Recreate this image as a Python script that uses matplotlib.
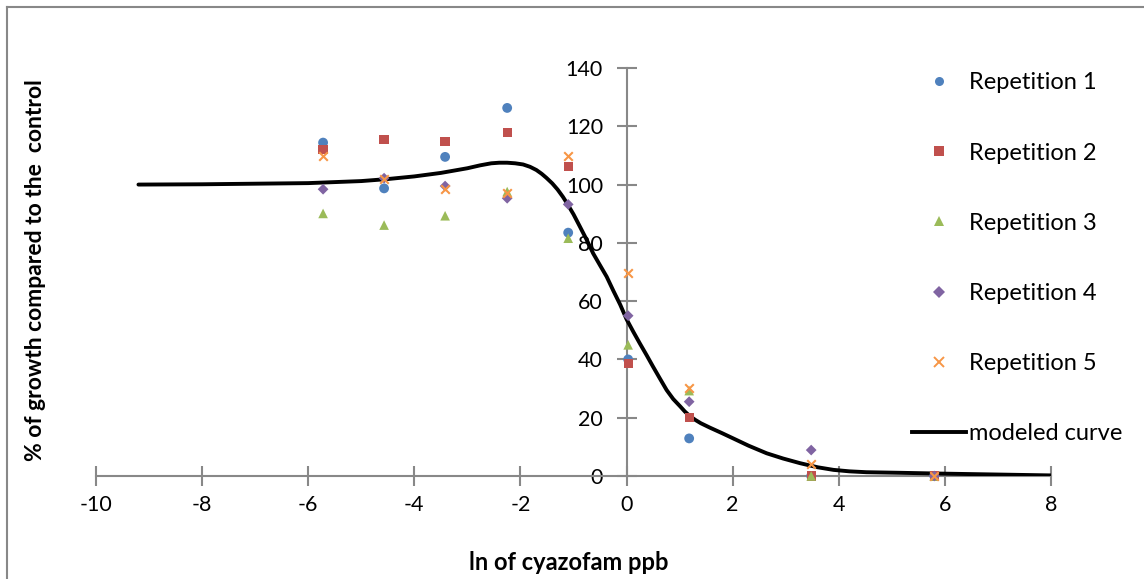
import numpy as np
import matplotlib.pyplot as plt
from matplotlib.lines import Line2D

plt.rcParams['font.family'] = ['Lato', 'DejaVu Sans']
plt.rcParams['axes.unicode_minus'] = False

# ln of concentration for each dose
ln_dose = [-5.72, -4.57, -3.42, -2.25, -1.10, 0.03, 1.18, 3.48, 5.80]

rep1 = [114.4, 98.7, 109.5, 126.3, 83.5, 40.0, 12.9, 0.0, 0.0]
rep2 = [112.1, 115.6, 114.7, 117.8, 106.2, 38.7, 20.1, 0.0, 0.0]
rep3 = [90.1, 86.1, 89.3, 97.6, 81.6, 45.0, 29.3, 0.0, 0.0]
rep4 = [98.4, 102.2, 99.5, 95.3, 93.2, 55.0, 25.5, 8.9, 0.0]
rep5 = [109.9, 101.9, 98.6, 97.2, 109.8, 69.7, 30.1, 4.1, 0.0]

# modeled curve
curve_x = [-9.2, -8.0, -7.0, -6.0, -5.0, -4.5, -4.0, -3.5, -3.0, -2.76, -2.55, -2.4,
           -2.25, -2.1, -1.95, -1.82, -1.7, -1.6, -1.51, -1.4, -1.3, -1.2, -1.13, -1.0,
           -0.88, -0.75, -0.63, -0.5, -0.375, -0.25, -0.12, 0.0, 0.13, 0.25, 0.38,
           0.5, 0.63, 0.755, 0.88, 1.01, 1.1, 1.19, 1.3, 1.4, 1.57, 1.8, 2.01, 2.3,
           2.64, 2.95, 3.27, 3.6, 3.9, 4.2, 4.52, 5.15, 6.0, 7.0, 8.0]
curve_y = [100.0, 100.1, 100.3, 100.5, 101.2, 101.9, 102.8, 104.0, 105.6, 106.6,
           107.3, 107.5, 107.5, 107.3, 106.9, 106.1, 105.0, 103.7, 102.3, 100.4,
           98.3, 95.8, 93.8, 89.8, 85.6, 81.0, 76.4, 72.3, 68.4, 63.6, 58.8, 53.8,
           49.4, 45.5, 41.4, 37.5, 33.4, 29.5, 26.4, 23.9, 22.1, 20.6, 19.2, 18.1,
           16.6, 14.7, 12.9, 10.4, 7.8, 6.0, 4.4, 3.0, 2.1, 1.6, 1.3, 1.1, 0.8, 0.5, 0.2]

colors = ['#4F81BD', '#C0504D', '#9BBB59', '#8064A2', '#F79646']
markers = ['o', 's', '^', 'D', 'x']
sizes = [50, 44, 48, 30, 38]
labels = ['Repetition 1', 'Repetition 2', 'Repetition 3', 'Repetition 4', 'Repetition 5']
reps = [rep1, rep2, rep3, rep4, rep5]

fig = plt.figure(figsize=(11.44, 5.79), dpi=100)
ax = fig.add_axes([96 / 1144, 103 / 579, 955 / 1144, 408 / 579])

for r, c, m, s in zip(reps, colors, markers, sizes):
    if m == 'x':
        ax.scatter(ln_dose, r, marker=m, s=s, color=c, linewidths=1.5, zorder=5,
                   clip_on=False)
    else:
        ax.scatter(ln_dose, r, marker=m, s=s, color=c, edgecolors='none', zorder=5,
                   clip_on=False)

ax.plot(curve_x, curve_y, color='black', lw=2.8, zorder=4, solid_capstyle='round',
        solid_joinstyle='round')

ax.set_xlim(-10, 8)
ax.set_ylim(0, 140)
ax.set_xticks(np.arange(-10, 9, 2))
ax.set_yticks(np.arange(0, 141, 20))

for side in ['top', 'right']:
    ax.spines[side].set_visible(False)
ax.spines['left'].set_position(('data', 0))
ax.spines['bottom'].set_position(('data', 0))
for side in ['left', 'bottom']:
    ax.spines[side].set_color('#888888')
    ax.spines[side].set_linewidth(1.5)
ax.tick_params(direction='inout', length=14, width=1.5, color='#888888',
               labelsize=15.5)
ax.tick_params(axis='x', pad=7)
ax.tick_params(axis='y', pad=10)

fig.text(569 / 1144, 1 - 562 / 579, 'ln of cyazofam ppb', ha='center', va='center',
         fontsize=17, fontweight='bold')
fig.text(36 / 1144, 1 - 270 / 579, '% of growth compared to the  control', ha='center',
         va='center', rotation=90, fontsize=16.5, fontweight='bold')

handles = [Line2D([], [], ls='none', marker=m, color=c, markersize=6.5,
                  markeredgewidth=1.4 if m == 'x' else 0)
           for c, m in zip(colors, markers)]
handles.append(Line2D([], [], color='black', lw=2.8))
ax.legend(handles, labels + ['modeled curve'], loc='upper left',
          bbox_to_anchor=(903 / 1144, 1 - 63 / 579), bbox_transform=fig.transFigure,
          frameon=False, fontsize=17, labelspacing=2.08, handlelength=2.25,
          handletextpad=0.15, borderaxespad=0)

# chart border on top and left
fig.add_artist(Line2D([7 / 1144, 1], [1 - 7 / 579, 1 - 7 / 579], color='#888888', lw=1.5))
fig.add_artist(Line2D([7 / 1144, 7 / 1144], [0, 1 - 7 / 579], color='#888888', lw=1.5))

fig.savefig('out.png', dpi=100)
